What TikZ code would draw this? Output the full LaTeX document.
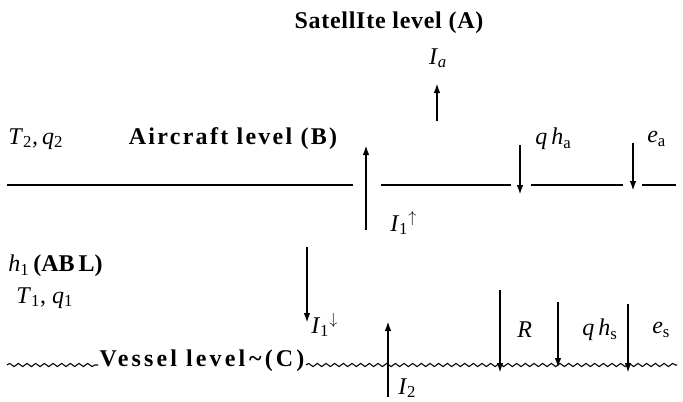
\documentclass[tikz,border=0pt]{standalone}
\usepackage{fontspec}
\setmainfont{Liberation Serif}
\usetikzlibrary{arrows.meta,decorations.pathmorphing}
\newcommand\ssub[1]{\textsubscript{#1}}
\begin{document}
\begin{tikzpicture}[x=0.75pt,y=-0.75pt,
  lvl/.style={line width=1.4pt},
  wave/.style={line width=0.8pt, decorate, decoration={snake, amplitude=1.2pt, segment length=6.5pt}},
  flux/.style={line width=1.6pt, -{Latex[length=7.5pt,width=5pt]}},
  lab/.style={inner sep=0pt, font=\fontsize{18}{21}\selectfont},
  head/.style={inner sep=0pt, font=\fontsize{18}{21}\selectfont\bfseries\addfontfeatures{LetterSpace=#1}},
  head/.default=3,
]
\useasboundingbox (0,0) rectangle (683,401);

% level titles
\node[head=3] (A) at (389,23) {SatellIte level (A)};
\node[head=9.5] (B) at (233,139) {Aircraft level (B)};
\node[head=13, fill=white, inner xsep=1pt] (C) at (202,361) {Vessel level\,\textasciitilde(C)};

% aircraft level line
\draw[lvl] (7,185) -- (353,185);
\draw[lvl] (381,185) -- (511,185);
\draw[lvl] (531,185) -- (623,185);
\draw[lvl] (642,185) -- (676,185);

% vessel level wavy line
\coordinate (w0) at (7,365);
\coordinate (w3) at (677,365);
\draw[wave] (w0) -- (C.west |- w0);
\draw[wave] (C.east |- w3) -- (w3);

% labels
\node[lab] (Ia) at (438,58) {\textit{I}\ssub{\textit{a}}};
\node[lab, anchor=west] (T2) at (8,139) {\textit{T}\ssub{2}\textit{,\,q}\ssub{2}};
\node[lab, anchor=west] (I1u) at (390,223) {\textit{I}\ssub{1}\textsuperscript{$\uparrow$}};
\node[lab, anchor=west] (qha) at (535,139) {\textit{q\,h}\ssub{a}};
\node[lab, anchor=west] (ea) at (647,139) {\textit{e}\ssub{a}};
\node[lab, anchor=west] (h1) at (8,266) {\textit{h}\ssub{1}\,\textbf{(AB\,L)}};
\node[lab, anchor=west] (T1) at (16,298) {\textit{T}\ssub{1}, \textit{q}\ssub{1}};
\node[lab, anchor=west] (I1d) at (311,325) {\textit{I}\ssub{1}\textsuperscript{$\downarrow$}};
\node[lab, anchor=west] (I2) at (398,388) {\textit{I}\ssub{2}};
\node[lab, anchor=west] (R) at (517,330) {\textit{R}};
\node[lab, anchor=west] (qhs) at (582,330) {\textit{q\,h}\ssub{s}};
\node[lab, anchor=west] (es) at (652,330) {\textit{e}\ssub{s}};

% flux arrows
\coordinate (a0) at (437,121); \coordinate (a1) at (437,83);
\coordinate (b0) at (366,230); \coordinate (b1) at (366,145);
\coordinate (c0) at (520,145); \coordinate (c1) at (520,195);
\coordinate (d0) at (633,143); \coordinate (d1) at (633,191);
\coordinate (e0) at (307,247); \coordinate (e1) at (307,323);
\coordinate (f0) at (388,397); \coordinate (f1) at (388,321);
\coordinate (g0) at (500,290); \coordinate (g1) at (500,373);
\coordinate (h0) at (558,302); \coordinate (h1e) at (558,368);
\coordinate (k0) at (628,304); \coordinate (k1) at (628,373);
\draw[flux] (a0) -- (a1);
\draw[flux] (b0) -- (b1);
\draw[flux] (c0) -- (c1);
\draw[flux] (d0) -- (d1);
\draw[flux] (e0) -- (e1);
\draw[flux] (f0) -- (f1);
\draw[flux] (g0) -- (g1);
\draw[flux] (h0) -- (h1e);
\draw[flux] (k0) -- (k1);
\end{tikzpicture}
\end{document}
